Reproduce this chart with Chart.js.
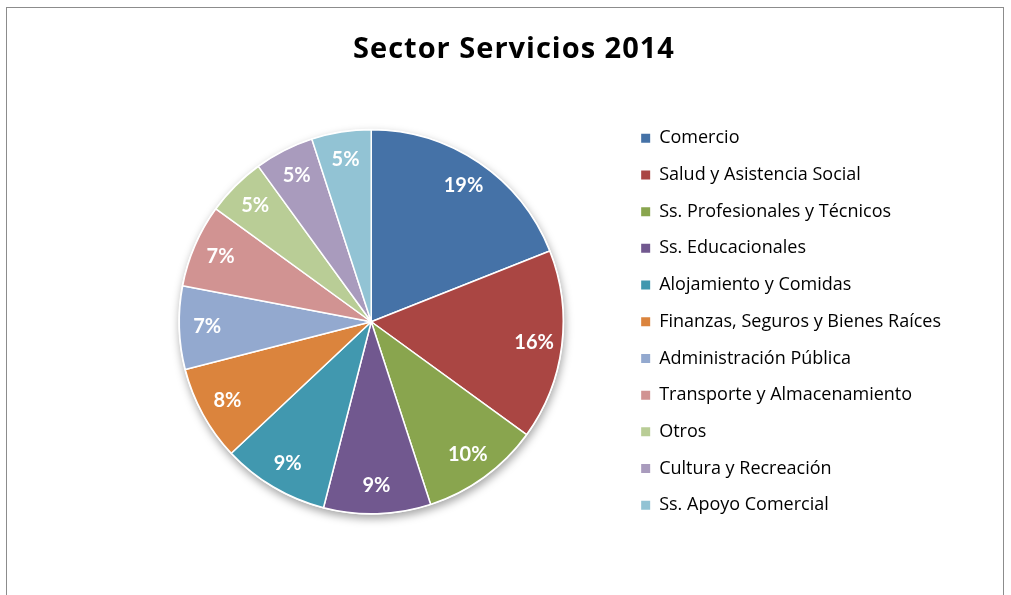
<!DOCTYPE html>
<html>
<head>
<meta charset="utf-8">
<script src="https://cdn.jsdelivr.net/npm/chart.js@4"></script>
<style>
    html, body { margin: 0; padding: 0; background: #fff; overflow: hidden; }
    #frame {
        position: absolute; left: 6px; top: 7px;
        width: 996px; height: 700px;
        border: 1px solid #8c8c8c;
    }
    #sectorChart { position: absolute; left: 0; top: 0; }
</style>
</head>
<body>
<div id="frame"></div>
<canvas id="sectorChart" width="1011" height="595"></canvas>
<script>
// Service sector breakdown, share of total (%)
const chartTitle = 'Sector Servicios 2014';
const sectors = [
    'Comercio',
    'Salud y Asistencia Social',
    'Ss. Profesionales y Técnicos',
    'Ss. Educacionales',
    'Alojamiento y Comidas',
    'Finanzas, Seguros y Bienes Raíces',
    'Administración Pública',
    'Transporte y Almacenamiento',
    'Otros',
    'Cultura y Recreación',
    'Ss. Apoyo Comercial'
];
const shares = [19, 16, 10, 9, 9, 8, 7, 7, 5, 5, 5];
const sliceColors = [
    '#4572A7', '#AA4643', '#89A54E', '#71588F', '#4198AF', '#DB843D',
    '#93A9CF', '#D19392', '#B9CD96', '#A99BBD', '#92C3D4'
];

// Title centred over the whole plot (pie + legend), not just the pie
const titleText = {
    id: 'titleText',
    afterDraw(chart, args, opts) {
        const ctx = chart.ctx;
        ctx.save();
        ctx.fillStyle = '#000000';
        ctx.font = 'bold 29px "Open Sans"';
        ctx.letterSpacing = '1px';
        ctx.textAlign = 'center';
        ctx.textBaseline = 'alphabetic';
        ctx.fillText(opts.text, opts.x, opts.baseline);
        ctx.restore();
    }
};

// Soft drop shadow under the pie
const pieShadow = {
    id: 'pieShadow',
    beforeDatasetsDraw(chart) {
        const arc = chart.getDatasetMeta(0).data[0];
        if (!arc) return;
        const { x, y, outerRadius } = arc.getProps(['x', 'y', 'outerRadius'], true);
        const ctx = chart.ctx;
        ctx.save();
        ctx.shadowColor = 'rgba(0, 0, 0, 0.35)';
        ctx.shadowBlur = 9;
        ctx.shadowOffsetX = 1;
        ctx.shadowOffsetY = 4;
        ctx.fillStyle = '#ffffff';
        ctx.beginPath();
        ctx.arc(x, y, outerRadius + 1, 0, Math.PI * 2);
        ctx.fill();
        ctx.restore();
    }
};

// Percentage labels inside each slice
const sliceLabels = {
    id: 'sliceLabels',
    afterDatasetsDraw(chart) {
        const ctx = chart.ctx;
        const values = chart.data.datasets[0].data;
        ctx.save();
        ctx.fillStyle = '#ffffff';
        ctx.font = 'bold 20px Lato';
        ctx.textAlign = 'center';
        ctx.textBaseline = 'middle';
        chart.getDatasetMeta(0).data.forEach((arc, i) => {
            const { x, y, startAngle, endAngle, outerRadius } =
                arc.getProps(['x', 'y', 'startAngle', 'endAngle', 'outerRadius'], true);
            const mid = (startAngle + endAngle) / 2;
            const r = outerRadius * 0.855;
            ctx.fillText(values[i] + '%', x + Math.cos(mid) * r, y + Math.sin(mid) * r);
        });
        ctx.restore();
    }
};

const ctx = document.getElementById('sectorChart').getContext('2d');
const sectorChart = new Chart(ctx, {
    type: 'pie',
    data: {
        labels: sectors,
        datasets: [{
            data: shares,
            backgroundColor: sliceColors,
            borderColor: '#ffffff',
            borderWidth: 1.5,
            radius: 192
        }]
    },
    options: {
        responsive: false,
        animation: false,
        layout: {
            padding: { left: 120, right: 60, top: 65.5, bottom: 17 }
        },
        plugins: {
            titleText: { text: chartTitle, x: 514, baseline: 57.5 },
            title: { display: false },
            legend: {
                position: 'right',
                fullSize: false,
                labels: {
                    color: '#000000',
                    font: { family: 'Open Sans', size: 18 },
                    boxWidth: 9,
                    boxHeight: 9,
                    padding: 18.7,
                    generateLabels(chart) {
                        const base = Chart.overrides.pie.plugins.legend.labels.generateLabels(chart);
                        return base.map(item => ({ ...item, lineWidth: 0 }));
                    }
                }
            },
            tooltip: { enabled: false }
        }
    },
    plugins: [titleText, pieShadow, sliceLabels]
});
</script>
</body>
</html>
